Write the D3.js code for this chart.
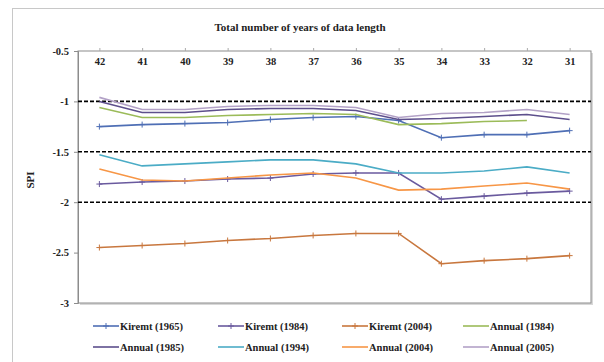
<!DOCTYPE html>
<html lang="en">
<head>
  <meta charset="UTF-8" />
  <title>SPI vs data length</title>
  <script src="https://d3js.org/d3.v7.min.js"></script>
  <style>
    html, body { margin: 0; background: #fff; }
    svg { display: block; font-family: "Liberation Serif", "Times New Roman", serif; font-weight: bold; }
    .tick text { font-size: 10.5px; fill: #222; }
  </style>
</head>
<body>
  <svg id="chart" width="604" height="362"></svg>
  <script>
    // years of data length (top axis)
    const years = ['42', '41', '40', '39', '38', '37', '36', '35', '34', '33', '32', '31'];
    const yTicks = [-0.5, -1, -1.5, -2, -2.5, -3];
    const thresholds = [-1, -1.5, -2];

    const kiremt1965 = [-1.25, -1.23, -1.22, -1.21, -1.18, -1.16, -1.15, -1.19, -1.36, -1.33, -1.33, -1.29];
    const kiremt1984 = [-1.82, -1.80, -1.79, -1.77, -1.76, -1.72, -1.71, -1.71, -1.97, -1.94, -1.91, -1.89];
    const kiremt2004 = [-2.45, -2.43, -2.41, -2.38, -2.36, -2.33, -2.31, -2.31, -2.61, -2.58, -2.56, -2.53];
    const annual1984 = [-1.06, -1.16, -1.16, -1.14, -1.13, -1.12, -1.13, -1.23, -1.22, -1.20, -1.19, null];
    const annual1985 = [-1.00, -1.11, -1.11, -1.08, -1.07, -1.07, -1.09, -1.18, -1.17, -1.15, -1.13, -1.18];
    const annual1994 = [-1.53, -1.64, -1.62, -1.60, -1.58, -1.58, -1.62, -1.71, -1.71, -1.69, -1.65, -1.71];
    const annual2004 = [-1.67, -1.78, -1.79, -1.76, -1.73, -1.71, -1.76, -1.88, -1.87, -1.84, -1.81, -1.87];
    const annual2005 = [-0.96, -1.08, -1.08, -1.05, -1.04, -1.04, -1.06, -1.16, -1.12, -1.11, -1.08, -1.13];

    const series = [
      { name: 'Kiremt (1965)', values: kiremt1965, color: '#4f6fb5', marker: true },
      { name: 'Kiremt (1984)', values: kiremt1984, color: '#6a5a9e', marker: true },
      { name: 'Kiremt (2004)', values: kiremt2004, color: '#c8773e', marker: true },
      { name: 'Annual (1984)', values: annual1984, color: '#9bbb59', marker: false },
      { name: 'Annual (1985)', values: annual1985, color: '#5d4f8c', marker: false },
      { name: 'Annual (1994)', values: annual1994, color: '#4bacc6', marker: false },
      { name: 'Annual (2004)', values: annual2004, color: '#f79646', marker: false },
      { name: 'Annual (2005)', values: annual2005, color: '#b3a2c7', marker: false }
    ];

    const margin = { top: 51, right: 13, bottom: 59, left: 78 };
    const W = 604, H = 362;
    const width = W - margin.left - margin.right;
    const height = H - margin.top - margin.bottom;

    const svg = d3.select('#chart');

    // outer frame
    svg.append('rect')
      .attr('x', 12.5).attr('y', 8.5)
      .attr('width', 600).attr('height', 360)
      .attr('fill', 'none').attr('stroke', '#c8c8c8');

    svg.append('text')
      .attr('x', 300).attr('y', 31)
      .attr('text-anchor', 'middle')
      .attr('font-size', 11)
      .attr('fill', '#222')
      .text('Total number of years of data length');

    const g = svg.append('g')
      .attr('transform', `translate(${margin.left},${margin.top})`);

    const x = d3.scalePoint().domain(years).range([0, width]).padding(0.5);
    const y = d3.scaleLinear().domain([-3, -0.5]).range([height, 0]);

    // plot area with shadow
    g.append('rect')
      .attr('x', 2).attr('y', 2).attr('width', width).attr('height', height)
      .attr('fill', '#d8d8d8');
    g.append('rect')
      .attr('width', width).attr('height', height)
      .attr('fill', '#fff').attr('stroke', '#8c8c8c');

    // left axis
    const yAxis = g.append('g')
      .call(d3.axisLeft(y).tickValues(yTicks).tickFormat(d => d).tickSize(4).tickPadding(5))
      .attr('font-family', null).attr('font-size', null);
    yAxis.select('.domain').attr('stroke', '#8c8c8c');
    yAxis.selectAll('.tick line').attr('stroke', '#8c8c8c');

    // top axis, labels inside the plot
    const xAxis = g.append('g')
      .call(d3.axisTop(x).tickSize(3).tickPadding(-17))
      .attr('font-family', null).attr('font-size', null);
    xAxis.select('.domain').remove();
    xAxis.selectAll('.tick line').attr('stroke', '#aaa');

    svg.append('text')
      .attr('transform', 'translate(34,180) rotate(-90)')
      .attr('text-anchor', 'middle')
      .attr('font-size', 11)
      .attr('fill', '#222')
      .text('SPI');

    // dashed threshold lines
    g.selectAll('.thr')
      .data(thresholds)
      .enter().append('line')
      .attr('x1', 0).attr('x2', width)
      .attr('y1', d => y(d)).attr('y2', d => y(d))
      .attr('stroke', '#000')
      .attr('stroke-width', 1.6)
      .attr('stroke-dasharray', '4,2');

    const line = d3.line()
      .defined(d => d.v != null)
      .x(d => x(d.k))
      .y(d => y(d.v));

    series.forEach(s => {
      const pts = years.map((k, i) => ({ k, v: s.values[i] }));
      g.append('path')
        .datum(pts)
        .attr('fill', 'none')
        .attr('stroke', s.color)
        .attr('stroke-width', 1.6)
        .attr('d', line);
      if (s.marker) {
        g.selectAll(null)
          .data(pts.filter(p => p.v != null))
          .enter().append('path')
          .attr('transform', p => `translate(${x(p.k)},${y(p.v)})`)
          .attr('d', 'M-3,0H3M0,-3V3')
          .attr('stroke', s.color)
          .attr('stroke-width', 1);
      }
    });

    // legend
    const legend = svg.append('g');
    const colX = [93, 218, 342, 463];
    const rowY = [326, 347];
    series.forEach((s, i) => {
      const lx = colX[i % 4], ly = rowY[Math.floor(i / 4)];
      const item = legend.append('g').attr('transform', `translate(${lx},${ly})`);
      item.append('line')
        .attr('x1', 0).attr('x2', 26).attr('y1', 0).attr('y2', 0)
        .attr('stroke', s.color).attr('stroke-width', 1.6);
      if (s.marker) {
        item.append('path').attr('d', 'M13,-3V3M10,0H16')
          .attr('stroke', s.color).attr('stroke-width', 1);
      }
      item.append('text')
        .attr('x', 27).attr('y', 3.5)
        .attr('font-size', 10.5)
        .attr('fill', '#222')
        .text(s.name);
    });
  </script>
</body>
</html>
